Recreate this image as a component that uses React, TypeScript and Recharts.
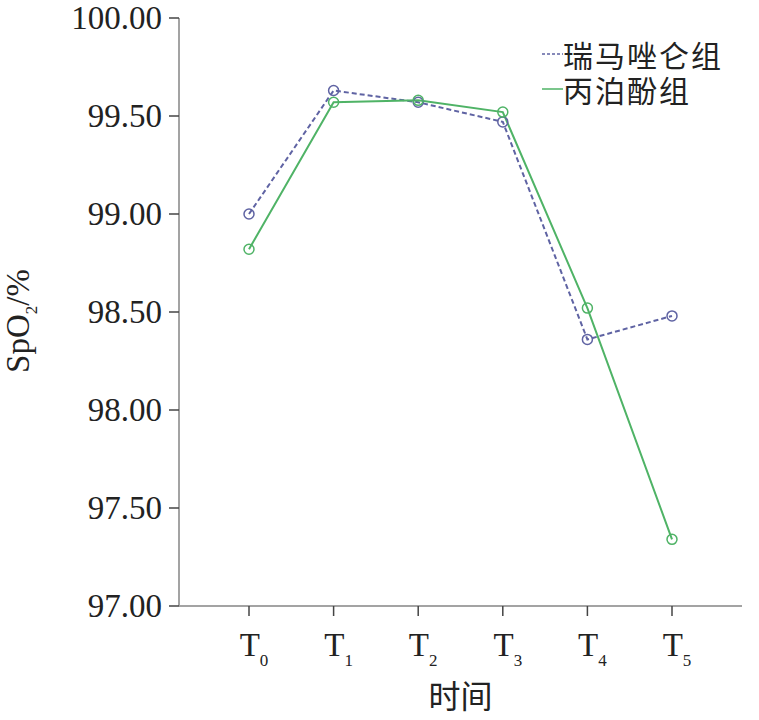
import React from 'react'
import { LineChart, Line, XAxis, YAxis, Legend, Label } from 'recharts'

const timePoints = ['0', '1', '2', '3', '4', '5']
const remimazolam = [99.0, 99.63, 99.57, 99.47, 98.36, 98.48]
const propofol = [98.82, 99.57, 99.58, 99.52, 98.52, 97.34]
const yTicks = [97, 97.5, 98, 98.5, 99, 99.5, 100]
const seriesOrder = ['remimazolam', 'propofol']

const BLUE = '#5f63a3'
const GREEN = '#4fb366'
const SERIF = '"Liberation Serif", "Times New Roman", serif'
const CJK = '"Noto Sans CJK SC", sans-serif'

const chartData = timePoints.map((t, i) => ({
  t,
  remimazolam: remimazolam[i],
  propofol: propofol[i],
}))

function XTick({ x, y, payload }: any) {
  return (
    <text x={x + 5} y={y + 38} textAnchor="middle" fontFamily={SERIF} fill="#222">
      <tspan fontSize={33}>T</tspan>
      <tspan fontSize={17} dy={10}>{payload.value}</tspan>
    </text>
  )
}

function YTick({ x, y, payload }: any) {
  return (
    <text x={x} y={y} dy={11} textAnchor="end" fontFamily={SERIF} fontSize={33} fill="#222">
      {payload.value.toFixed(2)}
    </text>
  )
}

function YLabel() {
  return (
    <text transform="rotate(-90, 29, 321)" x={29} y={321} textAnchor="middle" fontFamily={SERIF} fill="#222">
      <tspan fontSize={33}>SpO</tspan>
      <tspan fontSize={17} dy={8}>2</tspan>
      <tspan fontSize={33} dy={-8}>/%</tspan>
    </text>
  )
}

function LegendBox({ payload }: any) {
  const items = [...(payload || [])].sort(
    (a: any, b: any) => seriesOrder.indexOf(a.dataKey) - seriesOrder.indexOf(b.dataKey)
  )
  return (
    <div style={{ fontFamily: CJK, fontSize: 30, letterSpacing: 2, color: '#222', textAlign: 'left' }}>
      {items.map((p: any) => (
        <div key={p.value} style={{ display: 'flex', alignItems: 'center', height: 35 }}>
          <svg width={21} height={4}>
            <line
              x1={0}
              y1={2}
              x2={21}
              y2={2}
              stroke={p.color}
              strokeWidth={1.5}
              strokeDasharray={p.dataKey === 'remimazolam' ? '3 2' : undefined}
            />
          </svg>
          <span style={{ display: 'inline-block', height: 34, lineHeight: '34px' }}>{p.value}</span>
        </div>
      ))}
    </div>
  )
}

export default function App() {
  return (
    <div style={{ position: 'absolute', left: 0, top: 0, background: '#fff' }}>
      <LineChart width={759} height={720} data={chartData} margin={{ top: 18, right: 17, left: 0, bottom: 0 }}>
        <XAxis
          dataKey="t"
          height={114}
          padding={{ left: 70, right: 70 }}
          tick={<XTick />}
          tickSize={10}
          axisLine={{ stroke: '#a3a3a3', strokeWidth: 2 }}
          tickLine={{ stroke: '#444', strokeWidth: 1.5 }}
        >
          <Label value="时间" position="insideBottom" offset={12} fontFamily={CJK} fontSize={32} fill="#222" />
        </XAxis>
        <YAxis
          width={179}
          domain={[97, 100]}
          ticks={yTicks}
          interval={0}
          tick={<YTick />}
          tickSize={10}
          tickMargin={7}
          axisLine={{ stroke: '#a3a3a3', strokeWidth: 2 }}
          tickLine={{ stroke: '#444', strokeWidth: 1.5 }}
        >
          <Label content={<YLabel />} />
        </YAxis>
        <Legend
          layout="horizontal"
          align="center"
          verticalAlign="middle"
          wrapperStyle={{ top: 36, left: 542, width: 210 }}
          content={<LegendBox />}
        />
        <Line
          dataKey="remimazolam"
          name="瑞马唑仑组"
          stroke={BLUE}
          strokeWidth={2}
          strokeDasharray="5 3"
          dot={{ r: 5, stroke: BLUE, strokeWidth: 1.5, fill: 'none', strokeDasharray: '' }}
          isAnimationActive={false}
        />
        <Line
          dataKey="propofol"
          name="丙泊酚组"
          stroke={GREEN}
          strokeWidth={2}
          dot={{ r: 5, stroke: GREEN, strokeWidth: 1.5, fill: 'none' }}
          isAnimationActive={false}
        />
      </LineChart>
    </div>
  )
}
